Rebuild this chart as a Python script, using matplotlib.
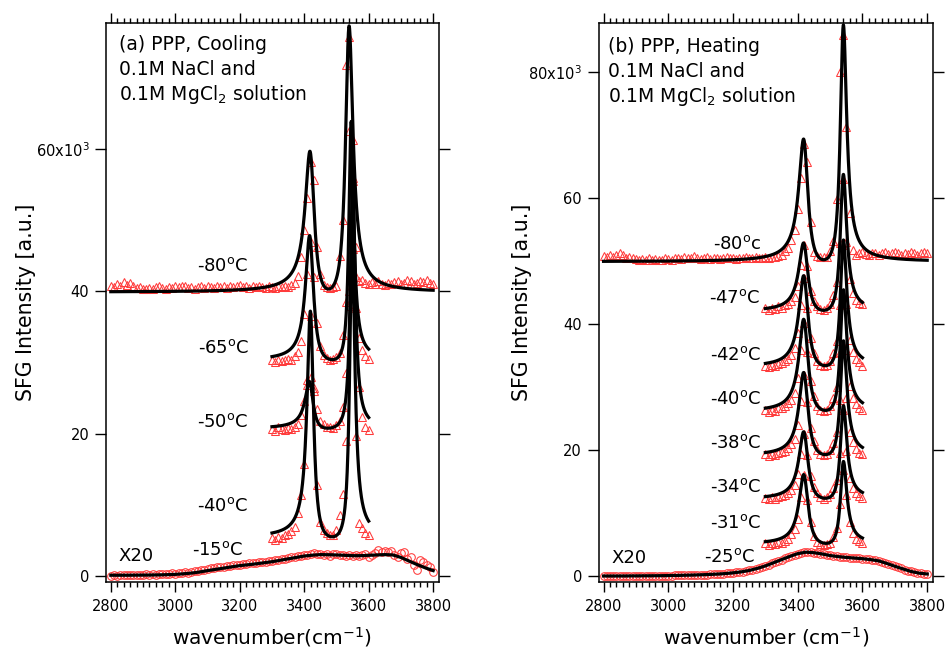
import numpy as np
import matplotlib
matplotlib.use('Agg')
import matplotlib.pyplot as plt
from matplotlib.ticker import MultipleLocator, FixedLocator, FixedFormatter

plt.rcParams['font.family'] = ['DejaVu Sans']
plt.rcParams['mathtext.fontset'] = 'dejavusans'

# ---------------- data (intensities in units of 10^3 a.u.) ----------------
short_x = np.arange(3300, 3601, 10)      # wavenumber grid of the short scans
long_x = np.arange(2800, 3801, 10)       # wavenumber grid of the full scans
x20_line_x = np.arange(2800, 3801, 25)   # sampling of the X20 fit lines

# ---- panel (a) cooling ----
a_labels = ['-80', '-65', '-50', '-40']
a_m80 = [40.8, 40.6, 41.0, 40.7, 41.3, 40.9, 41.2, 40.7, 40.5, 40.6,
         40.4, 40.3, 40.5, 40.4, 40.6, 40.8, 40.5, 40.4, 40.6, 40.5,
         40.7, 40.6, 40.8, 40.7, 40.5, 40.6, 40.4, 40.6, 40.8, 40.5,
         40.7, 40.6, 40.5, 40.8, 40.6, 40.7, 40.5, 40.8, 40.6, 40.7,
         40.9, 40.6, 40.7, 40.5, 40.8, 40.6, 40.7, 40.6, 40.5, 40.7,
         40.6, 40.5, 40.7, 40.6, 40.8, 40.6, 40.9, 41.2, 42.1, 44.9,
         48.6, 53.1, 58.2, 55.7, 46.3, 42.5, 40.9, 40.6, 40.5, 40.6,
         40.7, 45.0, 50.0, 71.8, 75.7, 61.3, 46.3, 41.4, 41.6, 41.2,
         41.0, 41.3, 41.1, 41.4, 41.0, 40.9, 41.2, 41.0, 41.3, 41.5,
         41.1, 41.2, 41.6, 41.4, 41.0, 41.2, 41.5, 41.3, 41.6, 41.2, 41.0]
a_m65 = [30.3, 30.1, 30.4, 30.2, 30.3, 30.5, 30.4, 30.9, 31.5, 33.0,
         36.8, 42.5, 47.0, 42.0, 35.6, 32.3, 31.0, 30.6, 30.4, 30.5,
         30.8, 31.4, 33.8, 38.5, 62.5, 56.0, 37.6, 33.5, 31.8, 30.9, 30.5]
a_m50 = [20.6, 20.4, 20.9, 20.7, 20.5, 20.8, 20.6, 21.0, 21.4, 22.6,
         24.6, 26.8, 27.9, 26.4, 23.5, 21.8, 21.3, 21.0, 20.9, 20.8,
         21.2, 21.8, 23.8, 28.5, 40.0, 55.5, 42.0, 26.5, 22.4, 20.9, 20.5]
a_m40 = [5.3, 5.1, 5.5, 5.4, 5.7, 5.9, 6.3, 6.9, 8.8, 11.4,
         15.8, 27.5, 36.5, 26.0, 12.8, 7.6, 6.4, 6.0, 5.7, 5.8,
         6.5, 8.6, 11.5, 19.0, 38.0, 46.0, 19.7, 7.4, 6.8, 6.1, 5.8]
a_m15_x20 = [0.0, 0.1, 0.05, 0.12, 0.08, 0.15, 0.1, 0.18, 0.12, 0.2,
             0.15, 0.22, 0.18, 0.25, 0.2, 0.28, 0.22, 0.3, 0.27, 0.35,
             0.3, 0.38, 0.42, 0.5, 0.48, 0.58, 0.65, 0.72, 0.85, 0.9,
             1.0, 1.05, 1.1, 1.2, 1.25, 1.3, 1.38, 1.42, 1.5, 1.55,
             1.6, 1.65, 1.7, 1.75, 1.78, 1.85, 1.9, 1.95, 2.0, 2.05,
             2.15, 2.2, 2.3, 2.4, 2.45, 2.55, 2.6, 2.7, 2.8, 2.85,
             2.95, 3.0, 3.1, 3.2, 3.05, 3.15, 3.0, 3.1, 2.85, 3.05,
             3.1, 2.9, 3.0, 2.75, 2.95, 2.8, 3.0, 2.85, 2.9, 3.05,
             2.7, 2.95, 3.2, 3.6, 3.4, 3.55, 3.3, 3.5, 3.0, 2.7,
             3.2, 3.4, 2.4, 2.6, 1.5, 0.8, 2.2, 1.9, 1.6, 1.2, 0.5]
a_m15_fit = [0.1, 0.1, 0.1, 0.11, 0.12, 0.13, 0.15, 0.18, 0.22, 0.3,
             0.4, 0.55, 0.75, 0.92, 1.1, 1.28, 1.45, 1.57, 1.7, 1.85,
             2.0, 2.2, 2.4, 2.6, 2.8, 2.92, 3.0, 2.98, 2.95, 2.9,
             2.85, 2.85, 2.9, 2.95, 3.0, 2.95, 2.6, 2.1, 1.6, 1.15, 0.75]
# Lorentzian fit parameters (baseline, two resonances: centre, height, half width)
a_fit_base = [39.9, 30.3, 20.7, 5.4]
a_fit_pos1 = [3420, 3418, 3418, 3420]
a_fit_amp1 = [18.2, 17.0, 6.2, 31.0]
a_fit_wid1 = [17, 15, 15, 12]
a_fit_pos2 = [3538, 3545, 3550, 3548]
a_fit_amp2 = [35.7, 32.5, 35.0, 41.0]
a_fit_wid2 = [14, 9, 9, 9.5]

# ---- panel (b) heating ----
b_labels = ['-80', '-47', '-42', '-40', '-38', '-34', '-31']
b_m80 = [50.8, 50.6, 50.9, 50.7, 50.9, 51.2, 50.9, 50.5, 50.6, 50.4,
         50.3, 50.2, 50.3, 50.2, 50.4, 50.2, 50.3, 50.1, 50.2, 50.4,
         50.3, 50.2, 50.4, 50.5, 50.3, 50.6, 50.4, 50.5, 50.8, 50.5,
         50.3, 50.4, 50.6, 50.3, 50.4, 50.5, 50.3, 50.4, 50.6, 50.4,
         50.5, 50.3, 50.5, 50.4, 50.6, 50.4, 50.5, 50.6, 50.4, 50.5,
         50.6, 50.5, 50.7, 50.6, 50.8, 51.0, 51.6, 52.0, 53.3, 54.9,
         58.2, 63.1, 68.6, 65.7, 56.2, 51.5, 50.8, 50.7, 50.6, 50.7,
         51.6, 53.2, 59.8, 80.0, 85.9, 71.3, 57.6, 51.7, 51.0, 51.2,
         51.4, 51.1, 50.9, 51.2, 51.3, 51.0, 51.2, 51.4, 51.1, 51.3,
         51.5, 51.2, 51.0, 51.3, 51.1, 51.4, 51.2, 51.0, 51.3, 51.5, 51.2]
b_m47 = [42.5, 42.3, 42.6, 42.4, 42.8, 42.6, 43.0, 43.2, 43.6, 44.3,
         46.0, 49.4, 52.5, 49.2, 45.3, 43.6, 42.8, 42.4, 42.3, 42.5,
         43.2, 44.6, 46.6, 52.8, 63.0, 53.0, 47.2, 45.0, 43.8, 43.4, 43.1]
b_m42 = [33.4, 33.2, 33.5, 33.3, 33.7, 33.8, 34.1, 34.5, 35.1, 36.2,
         38.5, 43.0, 47.3, 42.6, 37.8, 35.4, 34.1, 33.5, 33.3, 33.5,
         34.2, 35.4, 37.3, 43.0, 52.5, 43.2, 37.5, 35.6, 34.5, 33.9, 33.4]
b_m40 = [26.3, 26.1, 26.4, 26.2, 26.6, 26.7, 27.0, 27.4, 28.0, 29.0,
         31.4, 35.8, 40.2, 35.6, 30.9, 28.5, 27.0, 26.4, 26.2, 26.4,
         27.0, 28.2, 30.0, 35.5, 44.6, 35.8, 30.2, 28.3, 27.3, 26.7, 26.3]
b_m38 = [19.3, 19.1, 19.4, 19.2, 19.6, 19.7, 19.9, 20.3, 20.9, 21.8,
         23.9, 27.8, 31.9, 27.6, 23.5, 21.4, 20.0, 19.4, 19.2, 19.4,
         20.0, 21.1, 22.8, 28.0, 36.6, 28.2, 22.9, 21.2, 20.2, 19.6, 19.3]
b_m34 = [12.4, 12.2, 12.5, 12.3, 12.6, 12.7, 12.9, 13.2, 13.7, 14.5,
         16.2, 19.3, 22.6, 19.2, 15.9, 14.2, 13.1, 12.6, 12.3, 12.5,
         13.0, 13.9, 15.3, 19.6, 26.3, 19.8, 15.5, 14.0, 13.2, 12.7, 12.4]
b_m31 = [5.2, 5.0, 5.3, 5.1, 5.4, 5.3, 5.6, 5.9, 6.6, 7.4,
         9.0, 12.6, 16.0, 12.0, 8.6, 6.3, 5.4, 5.1, 5.0, 5.1,
         5.3, 6.2, 7.6, 11.5, 16.8, 12.8, 8.6, 6.9, 5.8, 5.5, 5.2]
b_m25_x20 = [0.0, 0.0, 0.01, 0.0, 0.02, 0.01, 0.02, 0.01, 0.03, 0.02,
             0.03, 0.02, 0.04, 0.03, 0.05, 0.04, 0.05, 0.06, 0.05, 0.07,
             0.07, 0.08, 0.09, 0.1, 0.11, 0.12, 0.13, 0.15, 0.16, 0.17,
             0.19, 0.21, 0.23, 0.25, 0.28, 0.3, 0.33, 0.37, 0.41, 0.45,
             0.5, 0.56, 0.62, 0.7, 0.78, 0.88, 1.0, 1.13, 1.28, 1.45,
             1.62, 1.82, 2.02, 2.22, 2.42, 2.62, 2.82, 3.02, 3.22, 3.4,
             3.56, 3.7, 3.78, 3.8, 3.74, 3.7, 3.62, 3.54, 3.45, 3.35,
             3.26, 3.18, 3.1, 3.06, 3.0, 2.96, 2.92, 2.88, 2.84, 2.8,
             2.76, 2.7, 2.64, 2.56, 2.47, 2.38, 2.25, 2.1, 1.92, 1.74,
             1.55, 1.38, 1.2, 1.02, 0.86, 0.72, 0.6, 0.5, 0.42, 0.36, 0.32]
b_m25_fit = [0.0, 0.0, 0.0, 0.01, 0.02, 0.03, 0.04, 0.05, 0.07, 0.09,
             0.12, 0.15, 0.19, 0.24, 0.3, 0.38, 0.5, 0.65, 0.88, 1.2,
             1.6, 2.1, 2.6, 3.1, 3.55, 3.78, 3.7, 3.5, 3.25, 3.08,
             2.95, 2.85, 2.75, 2.6, 2.4, 2.0, 1.55, 1.12, 0.72, 0.45, 0.32]
b_fit_base = [49.9, 42.0, 33.2, 26.1, 19.1, 12.2, 5.05]
b_fit_pos1 = [3420, 3420, 3420, 3420, 3420, 3420, 3420]
b_fit_amp1 = [18.3, 10.2, 13.8, 14.0, 12.6, 10.2, 10.6]
b_fit_wid1 = [17, 17, 17, 17, 17, 17, 17]
b_fit_pos2 = [3540, 3540, 3540, 3540, 3540, 3540, 3540]
b_fit_amp2 = [35.9, 20.8, 19.0, 18.2, 17.2, 14.0, 12.3]
b_fit_wid2 = [12, 12, 12, 12, 12, 12, 12]

RED = '#ff3b3b'


def fit_curve(x, base, pos, amp, wid):
    chi = np.zeros(len(x), dtype=complex)
    for p, a, w in zip(pos, amp, wid):
        chi += np.sqrt(a) * w / (x - p + 1j * w)
    return base + np.abs(chi) ** 2


def style_axes(ax, ymax_label, yticks, ybottom, ytop):
    ax.set_xlim(2785, 3817)
    ax.set_ylim(ybottom, ytop)
    ax.xaxis.set_major_locator(MultipleLocator(200))
    ax.xaxis.set_minor_locator(MultipleLocator(20))
    ax.yaxis.set_major_locator(FixedLocator(yticks))
    labels = [str(t) for t in yticks[:-1]] + [ymax_label]
    ax.yaxis.set_major_formatter(FixedFormatter(labels))
    ax.tick_params(axis='both', which='both', direction='out',
                   top=True, right=True, labelsize=10.5, width=1.0)
    ax.tick_params(axis='x', which='major', length=7, pad=5.5)
    ax.tick_params(axis='x', which='minor', length=3.6)
    ax.tick_params(axis='y', which='major', length=8, pad=4)
    for s in ax.spines.values():
        s.set_linewidth(1.1)


fig = plt.figure(figsize=(9.47, 6.51), dpi=100)
axA = fig.add_axes([0.1119, 0.106, 0.3513, 0.8582])
axB = fig.add_axes([0.6322, 0.106, 0.3527, 0.8582])

mk_tri = dict(linestyle='none', marker='^', ms=6, mfc='none', mec=RED, mew=0.75)
mk_cir = dict(linestyle='none', marker='o', ms=5.5, mfc='none', mec=RED, mew=0.75)
LW = 2.3

# ---------- panel (a) ----------
a_marks = [a_m80, a_m65, a_m50, a_m40]
for i, m in enumerate(a_marks):
    xm = long_x if i == 0 else short_x
    axA.plot(xm, m, **mk_tri, zorder=2)
axA.plot(long_x, a_m15_x20, **mk_cir, zorder=2)
for i in range(len(a_labels)):
    xf = np.linspace(2800, 3800, 4001) if i == 0 else np.linspace(3300, 3600, 1201)
    yf = fit_curve(xf, a_fit_base[i], [a_fit_pos1[i], a_fit_pos2[i]],
                   [a_fit_amp1[i], a_fit_amp2[i]], [a_fit_wid1[i], a_fit_wid2[i]])
    axA.plot(xf, yf, color='black', lw=LW, zorder=3)
axA.plot(x20_line_x, a_m15_fit, color='black', lw=LW, zorder=3)

style_axes(axA, r'60x10$^3$', [0, 20, 40, 60], -0.85, 77.68)
axA.set_xlabel(r'wavenumber(cm$^{-1}$)', fontsize=14.5, labelpad=8)
axA.set_ylabel('SFG Intensity [a.u.]', fontsize=14.8)
axA.yaxis.set_label_coords(-0.209, 0.5)

TF = 13.5
LF = 13
axA.text(2825, 73.93, '(a) PPP, Cooling', fontsize=TF, va='baseline')
axA.text(2825, 70.4, '0.1M NaCl and', fontsize=TF, va='baseline')
axA.text(2825, 66.9, r'0.1M MgCl$_2$ solution', fontsize=TF, va='baseline')
a_lab_pos = [(3226, 42.9), (3231, 31.3), (3226, 20.9), (3226, 9.18)]
for lab, (x, y) in zip(a_labels, a_lab_pos):
    axA.text(x, y, lab + r'$^{\mathrm{o}}$C', fontsize=LF, ha='right', va='baseline')
axA.text(3210, 2.95, r'-15$^{\mathrm{o}}$C', fontsize=LF, ha='right', va='baseline')
axA.text(2825, 2.15, 'X20', fontsize=LF, ha='left', va='baseline')

# ---------- panel (b) ----------
b_marks = [b_m80, b_m47, b_m42, b_m40, b_m38, b_m34, b_m31]
for i, m in enumerate(b_marks):
    xm = long_x if i == 0 else short_x
    axB.plot(xm, m, **mk_tri, zorder=2)
axB.plot(long_x, b_m25_x20, **mk_cir, zorder=2)
for i in range(len(b_labels)):
    xf = np.linspace(2800, 3800, 4001) if i == 0 else np.linspace(3300, 3600, 1201)
    yf = fit_curve(xf, b_fit_base[i], [b_fit_pos1[i], b_fit_pos2[i]],
                   [b_fit_amp1[i], b_fit_amp2[i]], [b_fit_wid1[i], b_fit_wid2[i]])
    axB.plot(xf, yf, color='black', lw=LW, zorder=3)
axB.plot(x20_line_x, b_m25_fit, color='black', lw=LW, zorder=3)

style_axes(axB, r'80x10$^3$', [0, 20, 40, 60, 80], -0.95, 87.73)
axB.set_xlabel(r'wavenumber (cm$^{-1}$)', fontsize=14.5, labelpad=8)
axB.set_ylabel('SFG Intensity [a.u.]', fontsize=14.8)
axB.yaxis.set_label_coords(-0.201, 0.5)

axB.text(2815, 83.2, '(b) PPP, Heating', fontsize=TF, va='baseline')
axB.text(2815, 79.25, '0.1M NaCl and', fontsize=TF, va='baseline')
axB.text(2815, 75.3, r'0.1M MgCl$_2$ solution', fontsize=TF, va='baseline')
b_lab_pos = [(3289, 51.86), (3284, 43.3), (3287, 34.3), (3289, 27.3),
             (3287, 20.27), (3287, 13.38), (3289, 7.57)]
for i, (lab, (x, y)) in enumerate(zip(b_labels, b_lab_pos)):
    unit = 'c' if i == 0 else 'C'
    axB.text(x, y, lab + r'$^{\mathrm{o}}$' + unit, fontsize=LF, ha='right', va='baseline')
axB.text(3270, 2.27, r'-25$^{\mathrm{o}}$C', fontsize=LF, ha='right', va='baseline')
axB.text(2826, 2.11, 'X20', fontsize=LF, ha='left', va='baseline')

fig.savefig('out.png', dpi=100)
